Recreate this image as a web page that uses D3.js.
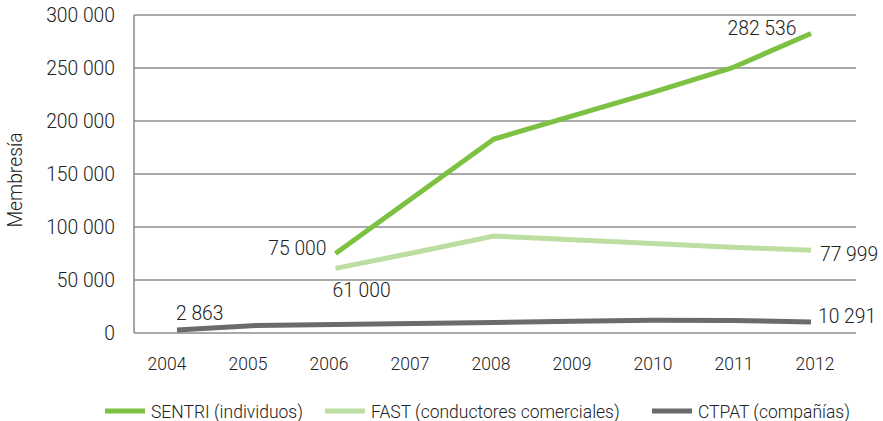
<!DOCTYPE html>
<html><head><meta charset="utf-8">
<script src="https://cdn.jsdelivr.net/npm/d3@7"></script>
<style>body{margin:0;background:#fff}text{font-family:Roboto,"Liberation Sans",sans-serif;font-weight:300;fill:#222}</style>
</head><body><svg id="c" width="883" height="421"></svg>
<script>
const years = [2004,2005,2006,2007,2008,2009,2010,2011,2012];
const yTicks = [0,50000,100000,150000,200000,250000,300000];
const sentriYears = [2006,2007,2008,2009,2010,2011,2012];
const sentriValues = [75000,129000,183000,205000,227000,250000,282536];
const fastYears = [2006,2007,2008,2009,2010,2011,2012];
const fastValues = [61000,76000,91500,88000,84500,81000,77999];
const ctpatYears = [2004,2005,2006,2007,2008,2009,2010,2011,2012];
const ctpatValues = [2863,7000,8000,9000,10000,11000,12000,11900,10291];
const seriesNames = ["SENTRI (individuos)","FAST (conductores comerciales)","CTPAT (compañías)"];
const colors = ["#7cc142","#bddea1","#6b6b6e"];

const svg = d3.select("#c");
const x = d3.scaleLinear().domain([2004,2012]).range([177,811]);
const xLab = d3.scalePoint().domain(years).range([167,815]);
const y = d3.scaleLinear().domain([0,300000]).range([333,15]);
const fmt = v => d3.format(",")(v).replace(/,/g," ");

svg.append("g").selectAll("line").data(yTicks).join("line")
  .attr("x1",134).attr("x2",856).attr("y1",d=>y(d)).attr("y2",d=>y(d))
  .attr("stroke","#555").attr("stroke-width",1);
svg.append("line").attr("x1",134).attr("x2",134).attr("y1",y(300000)).attr("y2",y(0))
  .attr("stroke","#888").attr("stroke-width",1.5);
svg.append("g").selectAll("text").data(yTicks).join("text")
  .attr("x",115).attr("y",d=>y(d)+7).attr("text-anchor","end").attr("font-size",19.3)
  .text(fmt);
svg.append("g").selectAll("text").data(years).join("text")
  .attr("x",d=>xLab(d)).attr("y",370).attr("text-anchor","middle").attr("font-size",17.5)
  .text(d=>d);
svg.append("text").attr("transform","translate(22,180) rotate(-90)").attr("text-anchor","middle")
  .attr("font-size",19.3).text("Membresía");

const line = d3.line().x(d=>x(d[0])).y(d=>y(d[1]));
const data = [d3.zip(sentriYears,sentriValues), d3.zip(fastYears,fastValues), d3.zip(ctpatYears,ctpatValues)];
[2,1,0].forEach(i=>{
  svg.append("path").datum(data[i]).attr("d",line).attr("fill","none")
    .attr("stroke",colors[i]).attr("stroke-width",5);
});

const lab = (t,xx,yy,anchor)=>svg.append("text").attr("x",xx).attr("y",yy).attr("text-anchor",anchor).attr("font-size",19.3).text(t);
lab(fmt(sentriValues[0]), x(2006)-9, y(sentriValues[0])+1, "end");
lab(fmt(fastValues[0]), x(2006)-3, y(fastValues[0])+29, "start");
lab(fmt(ctpatValues[0]), x(2004)-1, y(ctpatValues[0])-10, "start");
lab(fmt(sentriValues[6]), x(2012)-49, y(sentriValues[6])+1, "middle");
lab(fmt(fastValues[6]), x(2012)+9, y(fastValues[6])+11, "start");
lab(fmt(ctpatValues[8]), x(2012)+7, y(ctpatValues[8])+1, "start");

const legX = [105,325,652];
const lg = svg.append("g").selectAll("g").data(seriesNames).join("g")
  .attr("transform",(d,i)=>`translate(${legX[i]},411)`);
lg.append("line").attr("x1",0).attr("x2",40).attr("y1",0).attr("y2",0)
  .attr("stroke",(d,i)=>colors[i]).attr("stroke-width",5);
lg.append("text").attr("x",46).attr("y",6.5).attr("font-size",17.5).text(d=>d);
</script></body></html>
